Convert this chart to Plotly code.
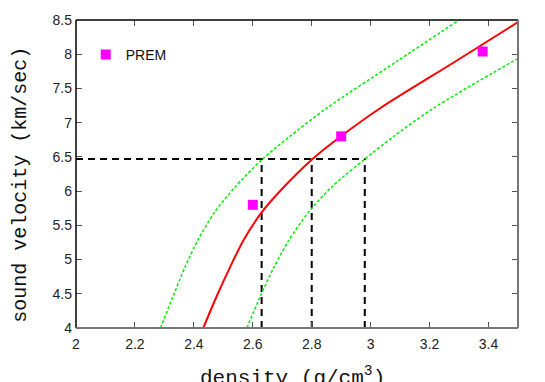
import plotly.graph_objects as go

# Data
rho_fit = [2.432, 2.477, 2.523, 2.568, 2.630, 2.703, 2.800, 2.896, 3.032, 3.286, 3.500]
v_fit = [4.00, 4.46, 4.89, 5.28, 5.69, 6.05, 6.46, 6.79, 7.21, 7.89, 8.47]

rho_upper = [2.287, 2.329, 2.370, 2.413, 2.470, 2.538, 2.631, 2.723, 2.850, 3.087, 3.300]
v_upper = [4.00, 4.46, 4.89, 5.28, 5.69, 6.05, 6.46, 6.79, 7.21, 7.89, 8.50]

rho_lower = [2.580, 2.625, 2.672, 2.722, 2.789, 2.865, 2.978, 3.075, 3.213, 3.500]
v_lower = [4.00, 4.46, 4.89, 5.28, 5.69, 6.05, 6.46, 6.79, 7.21, 7.94]

prem_rho = [2.60, 2.90, 3.38]
prem_v = [5.80, 6.80, 8.04]

v_ref = 6.47
rho_marks = [2.63, 2.80, 2.98]

x_range = [2.0, 3.5]
y_range = [4.0, 8.5]
x_ticks = [2.0, 2.2, 2.4, 2.6, 2.8, 3.0, 3.2, 3.4]
x_ticklabels = ["2", "2.2", "2.4", "2.6", "2.8", "3", "3.2", "3.4"]
y_ticks = [4.0, 4.5, 5.0, 5.5, 6.0, 6.5, 7.0, 7.5, 8.0, 8.5]
y_ticklabels = ["4", "4.5", "5", "5.5", "6", "6.5", "7", "7.5", "8", "8.5"]

fig = go.Figure()

dash_style = dict(color="black", width=2, dash="7px,5px")
fig.add_trace(go.Scatter(x=[x_range[0], rho_marks[-1]], y=[v_ref, v_ref], mode="lines",
                         line=dash_style, showlegend=False, hoverinfo="skip"))
for r in rho_marks:
    fig.add_trace(go.Scatter(x=[r, r], y=[y_range[0], v_ref], mode="lines",
                             line=dash_style, showlegend=False, hoverinfo="skip"))

green = dict(color="#00ee00", width=1.5, dash="3px,2px", shape="spline", smoothing=0.8)
fig.add_trace(go.Scatter(x=rho_upper, y=v_upper, mode="lines", line=green,
                         showlegend=False))
fig.add_trace(go.Scatter(x=rho_lower, y=v_lower, mode="lines", line=green,
                         showlegend=False))
fig.add_trace(go.Scatter(x=rho_fit, y=v_fit, mode="lines",
                         line=dict(color="#ff0000", width=2, shape="spline", smoothing=0.8),
                         showlegend=False))

fig.add_trace(go.Scatter(x=prem_rho, y=prem_v, mode="markers", name="PREM",
                         marker=dict(symbol="square", size=10, color="#ff00ff",
                                     line=dict(width=0))))

axis_common = dict(
    showgrid=False, zeroline=False, showline=False,
    ticks="inside", ticklen=6, tickwidth=1, tickcolor="#555555",
    mirror="ticks",
    tickfont=dict(family="Liberation Sans, Arial, sans-serif", size=14, color="#222222"),
)

fig.update_xaxes(range=x_range, tickvals=x_ticks, ticktext=x_ticklabels,
                 ticklabelstandoff=6, **axis_common)
fig.update_yaxes(range=y_range, tickvals=y_ticks, ticktext=y_ticklabels,
                 ticklabelstandoff=3, **axis_common)

# border
fig.add_shape(type="line", xref="paper", yref="paper", x0=0, x1=0, y0=0, y1=1,
              line=dict(color="black", width=1.5))
fig.add_shape(type="line", xref="paper", yref="paper", x0=0, x1=1, y0=1, y1=1,
              line=dict(color="black", width=1.5))
fig.add_shape(type="line", xref="paper", yref="paper", x0=0, x1=1, y0=0, y1=0,
              line=dict(color="#777777", width=2))
fig.add_shape(type="line", xref="paper", yref="paper", x0=1, x1=1, y0=0, y1=1,
              line=dict(color="#777777", width=2))

mono = "Liberation Mono, DejaVu Sans Mono, Courier New, monospace"
fig.add_annotation(text="density (g/cm<sup>3</sup>)", xref="paper", yref="paper",
                   x=0.49, y=-0.106, xanchor="center", yanchor="top", showarrow=False,
                   font=dict(family=mono, size=21, color="#111111"))
fig.add_annotation(text="sound velocity (km/sec)", xref="paper", yref="paper",
                   x=-0.1244, y=0.465, xanchor="center", yanchor="middle", showarrow=False,
                   textangle=-90, font=dict(family=mono, size=20, color="#111111"))

fig.update_layout(
    width=545, height=382,
    margin=dict(l=76, r=27, t=18, b=54),
    paper_bgcolor="white", plot_bgcolor="white",
    showlegend=True,
    legend=dict(x=0.022, y=0.887, xanchor="left", yanchor="middle",
                bgcolor="rgba(0,0,0,0)",
                font=dict(family="Liberation Sans, Arial, sans-serif", size=14, color="#111111")),
)

fig.write_html("out.html", config={"displayModeBar": False},
               post_script="document.body.style.margin='0';")
